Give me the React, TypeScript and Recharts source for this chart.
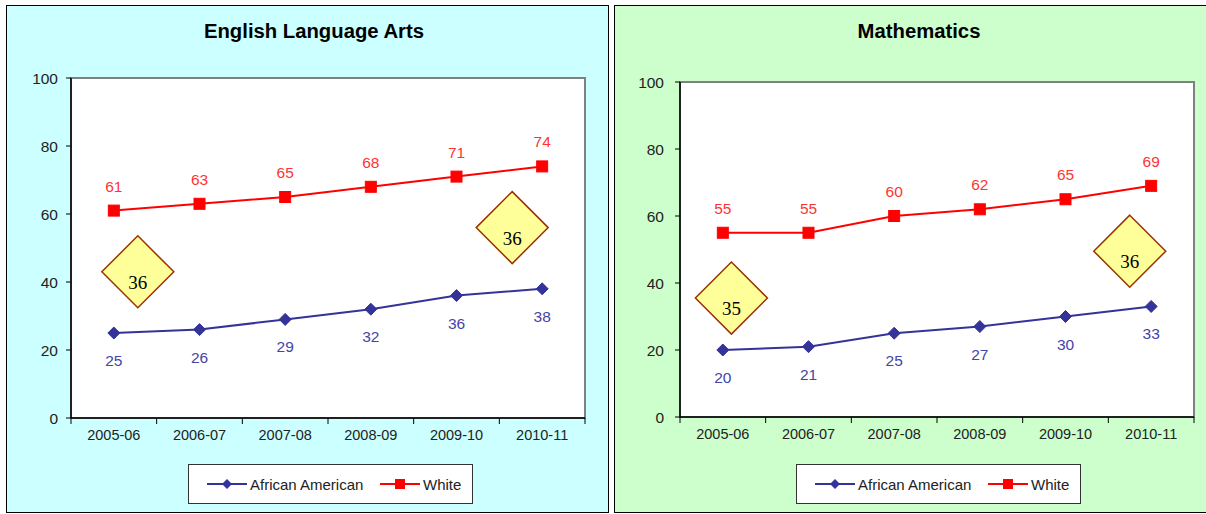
import React from 'react';
import { LineChart, Line, XAxis, YAxis, LabelList, ReferenceArea, ReferenceDot } from 'recharts';

const categories = ['2005-06', '2006-07', '2007-08', '2008-09', '2009-10', '2010-11'];
const elaAfricanAmerican = [25, 26, 29, 32, 36, 38];
const elaWhite = [61, 63, 65, 68, 71, 74];
const mathAfricanAmerican = [20, 21, 25, 27, 30, 33];
const mathWhite = [55, 55, 60, 62, 65, 69];
const yTicks = [0, 20, 40, 60, 80, 100];
// gap callouts: [category index position, y value, text]
const elaGaps = [
  { x: 0.78, y: 43, label: '36' },
  { x: 5.15, y: 56, label: '36' },
];
const mathGaps = [
  { x: 0.6, y: 35.5, label: '35' },
  { x: 5.25, y: 49.5, label: '36' },
];

const BLUE = '#333399';
const RED = '#FF0000';
const FONT = 'Arial, "Liberation Sans", Helvetica, sans-serif';

const xTickValues = [0, 0.5, 1, 1.5, 2, 2.5, 3, 3.5, 4, 4.5, 5, 5.5, 6];

function buildData(aa: number[], wh: number[]) {
  return categories.map((c, i) => ({ idx: i + 0.5, cat: c, aa: aa[i], white: wh[i] }));
}

const XTick = (props: any) => {
  const { x, y, payload } = props;
  const v = payload.value as number;
  if (Number.isInteger(v)) {
    return <line x1={x} x2={x} y1={y - 8} y2={y - 2} stroke="#000" strokeWidth={1} />;
  }
  const label = categories[Math.round(v - 0.5)];
  return (
    <text x={x} y={y + 14} textAnchor="middle" fontFamily={FONT} fontSize={14.5} fill="#222">
      {label}
    </text>
  );
};

const DiamondShape = (text: string) => (props: any) => {
  const { cx, cy } = props;
  const r = 36;
  return (
    <g>
      <polygon
        points={`${cx},${cy - r} ${cx + r},${cy} ${cx},${cy + r} ${cx - r},${cy}`}
        fill="#FFFF99"
        stroke="#993300"
        strokeWidth={1.5}
      />
      <text x={cx} y={cy + 17} textAnchor="middle" fontFamily='"Times New Roman", "Liberation Serif", serif' fontSize={19} fill="#000">
        {text}
      </text>
    </g>
  );
};

const DiamondMarker = (props: any) => {
  const { cx, cy } = props;
  const r = 6;
  return <polygon points={`${cx},${cy - r} ${cx + r},${cy} ${cx},${cy + r} ${cx - r},${cy}`} fill={BLUE} stroke={BLUE} />;
};

const SquareMarker = (props: any) => {
  const { cx, cy } = props;
  const s = 11;
  return <rect x={cx - s / 2} y={cy - s / 2} width={s} height={s} fill={RED} stroke={RED} />;
};

const LegendBox = ({ left, top }: { left: number; top: number }) => (
  <div
    style={{
      position: 'absolute',
      left,
      top,
      width: 283,
      height: 38,
      background: '#fff',
      border: '1px solid #333',
      fontFamily: FONT,
      fontSize: 15,
      color: '#222',
    }}
  >
    <svg width={283} height={38} style={{ position: 'absolute', left: 0, top: 0 }}>
      <line x1={18} x2={58} y1={19} y2={19} stroke={BLUE} strokeWidth={2} />
      <polygon points="38,14 43,19 38,24 33,19" fill={BLUE} />
      <text x={61} y={24.5} fontFamily={FONT} fontSize={15} fill="#222">African American</text>
      <line x1={191} x2={231} y1={19} y2={19} stroke={RED} strokeWidth={2} />
      <rect x={206} y={14} width={10} height={10} fill={RED} />
      <text x={234} y={24.5} fontFamily={FONT} fontSize={15} fill="#222">White</text>
    </svg>
  </div>
);

type PanelProps = {
  left: number;
  width: number;
  bg: string;
  title: string;
  titleX: number;
  aa: number[];
  wh: number[];
  gaps: { x: number; y: number; label: string }[];
  margin: { top: number; right: number; left: number; bottom: number };
  legendLeft: number;
  rightBorder: boolean;
  tickGap: number;
};

const Panel = ({ left, width, bg, title, titleX, aa, wh, gaps, margin, legendLeft, rightBorder, tickGap }: PanelProps) => {
  const data = buildData(aa, wh);
  const height = 508;
  return (
    <div
      style={{
        position: 'absolute',
        left,
        top: 5,
        width,
        height,
        background: bg,
        borderTop: '1px solid #000',
        borderLeft: '1px solid #000',
        borderBottom: '1px solid #000',
        borderRight: rightBorder ? '1px solid #000' : 'none',
        boxSizing: 'border-box',
        overflow: 'hidden',
      }}
    >
      <div
        style={{
          position: 'absolute',
          left: titleX - 200,
          width: 400,
          top: 14,
          textAlign: 'center',
          fontFamily: FONT,
          fontWeight: 'bold',
          fontSize: 20.3,
          color: '#000',
        }}
      >
        {title}
      </div>
      <div style={{ position: 'absolute', left: -1, top: -1 }}>
        <LineChart width={width} height={height} data={data} margin={margin}>
          <XAxis
            dataKey="idx"
            type="number"
            domain={[0, 6]}
            ticks={xTickValues}
            interval={0}
            tickLine={false}
            tick={<XTick />}
            axisLine={{ stroke: '#000', strokeWidth: 1.5 }}
            height={30}
          />
          <YAxis
            domain={[0, 100]}
            ticks={yTicks}
            interval={0}
            width={40}
            tickSize={5}
            tickLine={{ stroke: '#000' }}
            axisLine={{ stroke: '#000', strokeWidth: 1.5 }}
            tick={{ fontFamily: FONT, fontSize: 15.5, fill: '#222' }}
            tickMargin={tickGap}
          />
          <ReferenceArea x1={0} x2={6} y1={0} y2={100} fill="#fff" fillOpacity={1} stroke="#808080" strokeWidth={2} ifOverflow="visible" />
          <Line
            dataKey="white"
            stroke={RED}
            strokeWidth={2}
            dot={<SquareMarker />}
            isAnimationActive={false}
          >
            <LabelList dataKey="white" position="top" offset={19} fill="#FF3333" fontFamily={FONT} fontSize={15.5} />
          </Line>
          <Line
            dataKey="aa"
            stroke={BLUE}
            strokeWidth={2}
            dot={<DiamondMarker />}
            isAnimationActive={false}
          >
            <LabelList dataKey="aa" position="bottom" offset={22} fill="#4444AA" fontFamily={FONT} fontSize={15.5} />
          </Line>
          {gaps.map((g, i) => (
            <ReferenceDot key={i} x={g.x} y={g.y} r={36} ifOverflow="visible" shape={DiamondShape(g.label)} />
          ))}
        </LineChart>
      </div>
      <LegendBox left={legendLeft} top={458} />
    </div>
  );
};

export default function App() {
  return (
    <div style={{ position: 'absolute', left: 0, top: 0, width: 1206, height: 514, background: '#fff', overflow: 'hidden' }}>
      <Panel
        left={6}
        width={603}
        bg="#CCFFFF"
        title="English Language Arts"
        titleX={307}
        aa={elaAfricanAmerican}
        wh={elaWhite}
        gaps={elaGaps}
        margin={{ top: 73, right: 24, left: 25, bottom: 65 }}
        legendLeft={181}
        rightBorder={true}
        tickGap={8}
      />
      <Panel
        left={614}
        width={600}
        bg="#CCFFCC"
        title="Mathematics"
        titleX={304}
        aa={mathAfricanAmerican}
        wh={mathWhite}
        gaps={mathGaps}
        margin={{ top: 77, right: 20, left: 26, bottom: 66 }}
        legendLeft={181}
        rightBorder={false}
        tickGap={11}
      />
    </div>
  );
}
